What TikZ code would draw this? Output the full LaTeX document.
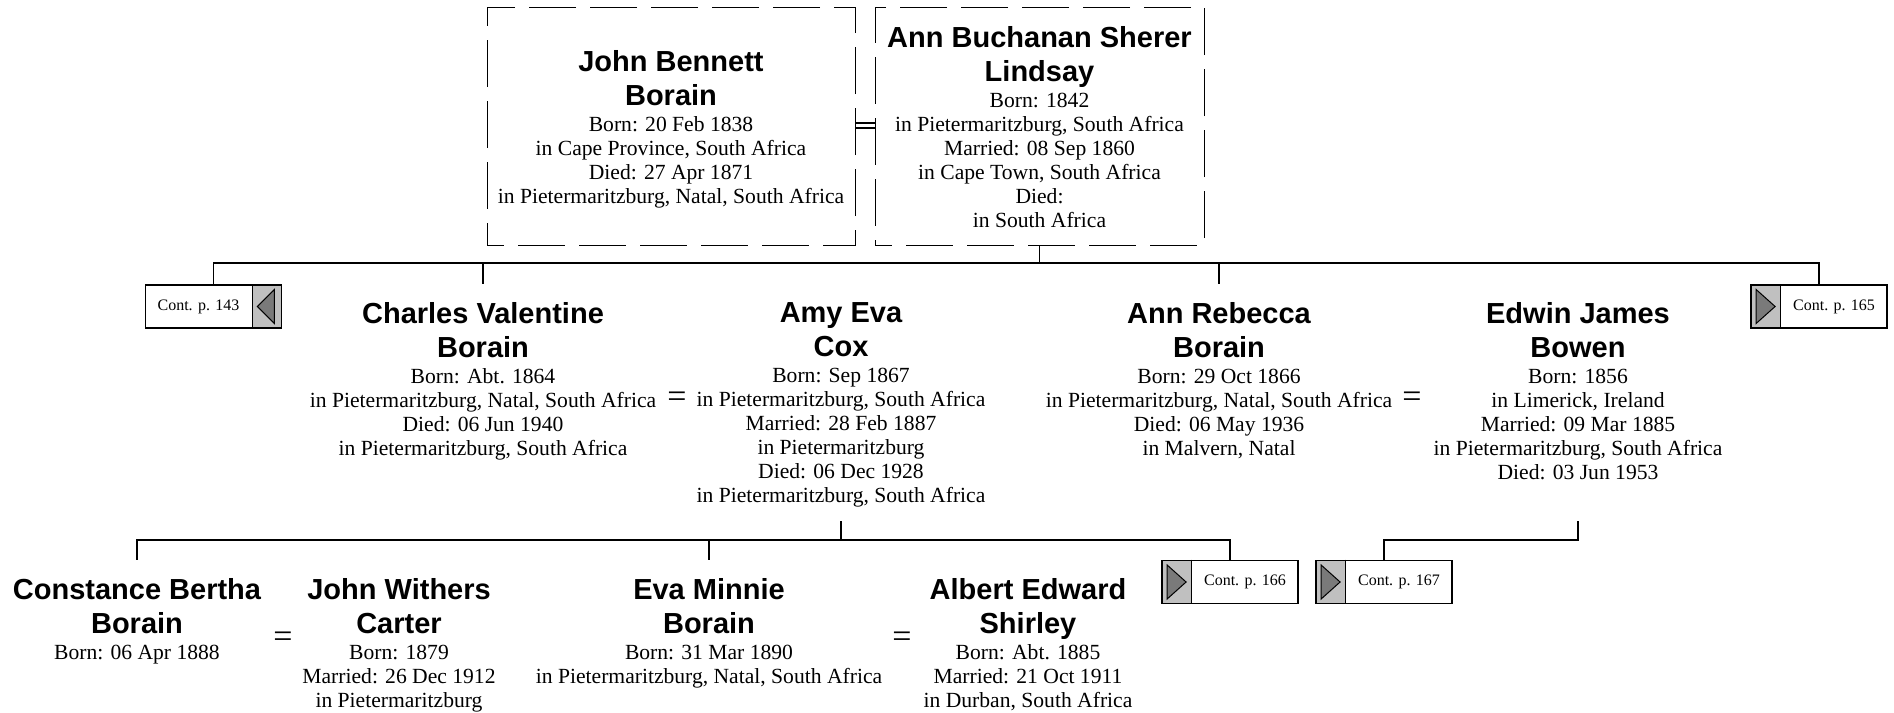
\documentclass[tikz,border=0pt]{standalone}
\usepackage{fontspec}
\setmainfont{Liberation Serif}
\newfontfamily\namefam{Liberation Sans}
\newcommand\namef{\namefam\bfseries\fontsize{14.5}{17}\selectfont}
\newcommand\detf{\fontsize{10.8}{12}\selectfont\lineskiplimit=-100pt\relax}
\newcommand\nm[1]{{\namef #1}}
\definecolor{contgray}{HTML}{C0C0C0}
\definecolor{tridark}{HTML}{7A7A7A}
\tikzset{
  x=0.5pt, y=-0.5pt,
  person/.style={align=center, inner sep=0pt, anchor=north, font=\detf},
  famline/.style={line width=0.9pt},
  thinline/.style={line width=0.55pt},
  dashbox/.style={draw, line width=0.45pt, dash pattern=on 23.5pt off 7pt, dash phase=15pt, minimum height=119pt, inner sep=0pt},
  contbox/.style={draw, line width=0.9pt, minimum width=68pt, minimum height=21.5pt, inner sep=0pt},
  conttext/.style={font=\fontsize{8}{9}\selectfont, inner sep=0pt},
  eqsign/.style={font=\fontsize{17}{17}\selectfont, inner sep=0pt},
  grayfill/.style={fill=contgray},
  trifill/.style={fill=tridark, draw=black, line width=0.5pt},
}
\begin{document}
\begin{tikzpicture}
\useasboundingbox (0,0) rectangle (1894,712);

% ---------- generation 1 ----------
\node[dashbox, minimum width=184pt] (johnbox) at (671,126) {};
\node[dashbox, minimum width=164.5pt] (annbox) at (1039.5,126) {};
\node[person] (john) at (671,50) {\nm{John Bennett}\\[5pt]\nm{Borain}\\[1pt]Born: 20 Feb 1838\\in Cape Province, South Africa\\Died: 27 Apr 1871\\in Pietermaritzburg, Natal, South Africa};
\node[person] (ann) at (1039.5,26) {\nm{Ann Buchanan Sherer}\\[5pt]\nm{Lindsay}\\[1pt]Born: 1842\\in Pietermaritzburg, South Africa\\Married: 08 Sep 1860\\in Cape Town, South Africa\\Died:\\in South Africa};
\draw[thinline] ([yshift=1.5pt]johnbox.east) -- ([yshift=1.5pt]annbox.west);
\draw[thinline] ([yshift=-1pt]johnbox.east) -- ([yshift=-1pt]annbox.west);

% ---------- generation 2 ----------
\node[person] (charles) at (483,302.5) {\nm{Charles Valentine}\\[5pt]\nm{Borain}\\[1pt]Born: Abt. 1864\\in Pietermaritzburg, Natal, South Africa\\Died: 06 Jun 1940\\in Pietermaritzburg, South Africa};
\node[eqsign] (eq1) at (677,400) {=};
\node[person] (amy) at (841,302.5) {\nm{Amy Eva}\\[5pt]\nm{Cox}\\[1pt]Born: Sep 1867\\in Pietermaritzburg, South Africa\\Married: 28 Feb 1887\\in Pietermaritzburg\\Died: 06 Dec 1928\\in Pietermaritzburg, South Africa};
\node[person] (annr) at (1219,302.5) {\nm{Ann Rebecca}\\[5pt]\nm{Borain}\\[1pt]Born: 29 Oct 1866\\in Pietermaritzburg, Natal, South Africa\\Died: 06 May 1936\\in Malvern, Natal};
\node[eqsign] (eq2) at (1412,400) {=};
\node[person] (edwin) at (1578,302.5) {\nm{Edwin James}\\[5pt]\nm{Bowen}\\[1pt]Born: 1856\\in Limerick, Ireland\\Married: 09 Mar 1885\\in Pietermaritzburg, South Africa\\Died: 03 Jun 1953};

% ---------- generation 3 ----------
\node[person] (constance) at (137,578) {\nm{Constance Bertha}\\[5pt]\nm{Borain}\\[1pt]Born: 06 Apr 1888};
\node[eqsign] (eq3) at (283,640) {=};
\node[person] (johnw) at (399,578) {\nm{John Withers}\\[5pt]\nm{Carter}\\[1pt]Born: 1879\\Married: 26 Dec 1912\\in Pietermaritzburg};
\node[person] (eva) at (709,578) {\nm{Eva Minnie}\\[5pt]\nm{Borain}\\[1pt]Born: 31 Mar 1890\\in Pietermaritzburg, Natal, South Africa};
\node[eqsign] (eq4) at (902,640) {=};
\node[person] (albert) at (1028,578) {\nm{Albert Edward}\\[5pt]\nm{Shirley}\\[1pt]Born: Abt. 1885\\Married: 21 Oct 1911\\in Durban, South Africa};

% ---------- continuation boxes ----------
% left-pointing (gray part on the right)
\node[contbox] (c143) at (213.5,306.5) {};
\fill[grayfill] ([xshift=-15pt]c143.north east) rectangle (c143.south east);
\draw[trifill] ([xshift=-12.5pt]c143.east) -- ([xshift=-4pt,yshift=8.5pt]c143.east) -- ([xshift=-4pt,yshift=-8.5pt]c143.east) -- cycle;
\draw[line width=0.5pt] ([xshift=-15pt]c143.north east) -- ([xshift=-15pt]c143.south east);
\node[contbox] at (c143) {};
\node[conttext] (t143) at ([xshift=-7.5pt]c143.center) {Cont. p. 143};

% right-pointing (gray part on the left)
\node[contbox] (c165) at (1819,306.5) {};
\node[contbox] (c166) at (1230,582) {};
\node[contbox] (c167) at (1384,582) {};
\foreach \b/\t in {c165/165, c166/166, c167/167}{
  \fill[grayfill] (\b.north west) rectangle ([xshift=15pt]\b.south west);
  \draw[trifill] ([xshift=3pt,yshift=8.5pt]\b.west) -- ([xshift=12.5pt]\b.west) -- ([xshift=3pt,yshift=-8.5pt]\b.west) -- cycle;
  \draw[line width=0.5pt] ([xshift=15pt]\b.north west) -- ([xshift=15pt]\b.south west);
  \node[contbox] at (\b) {};
  \node[conttext] at ([xshift=7.5pt]\b.center) {Cont. p. \t};
}

% ---------- family lines ----------
\coordinate (bar1) at (0,263);
\coordinate (stub2) at (0,521);
\coordinate (bar2) at (0,540);

\draw[famline] (annbox.south) -- (annbox.south |- bar1);
\draw[famline] (c143.north) |- (c165.north |- bar1) -- (c165.north);
\draw[famline] (charles.north |- bar1) -- (charles.north |- c143.north);
\draw[famline] (annr.north |- bar1) -- (annr.north |- c143.north);

\draw[famline] (amy.south |- stub2) -- (amy.south |- bar2);
\draw[famline] (constance.north |- c166.north) |- (c166.north |- bar2) -- (c166.north);
\draw[famline] (eva.north |- bar2) -- (eva.north |- c166.north);
\draw[famline] (edwin.south |- stub2) |- (c167.north |- bar2) -- (c167.north);
\end{tikzpicture}
\end{document}
